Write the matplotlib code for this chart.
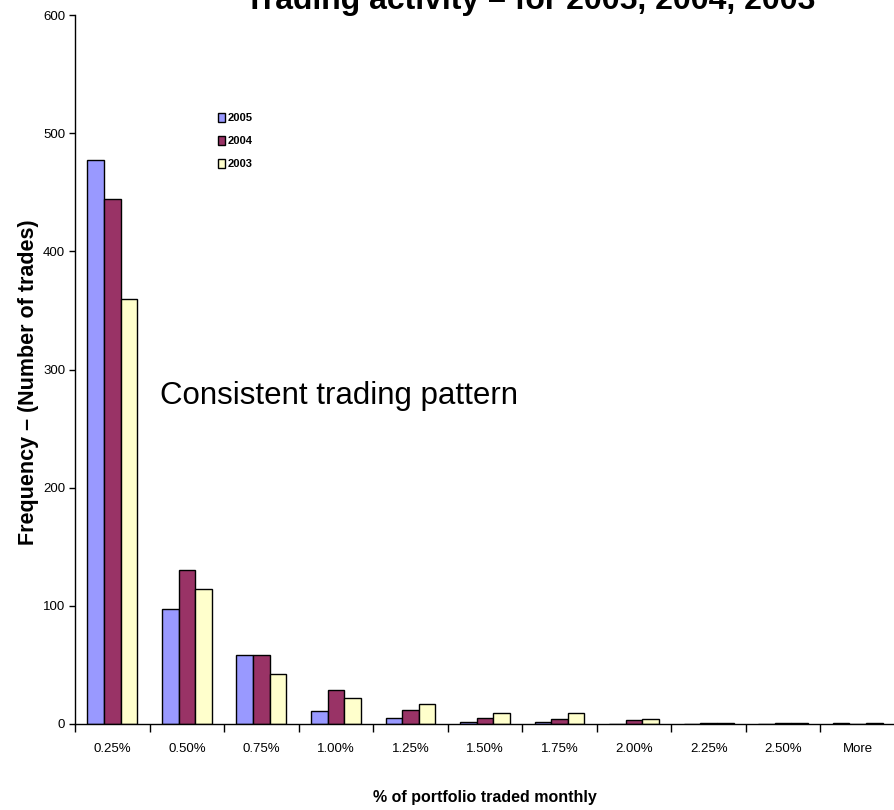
import matplotlib
matplotlib.use("Agg")
import matplotlib.pyplot as plt
from matplotlib import font_manager
import numpy as np

categories = ["0.25%", "0.50%", "0.75%", "1.00%", "1.25%", "1.50%",
              "1.75%", "2.00%", "2.25%", "2.50%", "More"]
series_names = ["2005", "2004", "2003"]
values_2005 = [477, 97, 58, 11, 5, 2, 2, 0, 0, 0, 1]
values_2004 = [444, 130, 58, 29, 12, 5, 4, 3, 1, 1, 0]
values_2003 = [360, 114, 42, 22, 17, 9, 9, 4, 1, 1, 1]
y_ticks = [0, 100, 200, 300, 400, 500, 600]

colors = ["#9999FF", "#993366", "#FFFFCC"]

installed = {f.name for f in font_manager.fontManager.ttflist}
narrow = "Liberation Sans Narrow" if "Liberation Sans Narrow" in installed else "Liberation Sans"
plt.rcParams["font.family"] = ["Liberation Sans", "DejaVu Sans"]

fig = plt.figure(figsize=(8.95, 8.10), dpi=100)
ax = fig.add_axes([75 / 895, 86 / 810, 820 / 895, 709 / 810])

x = np.arange(len(categories))
bw = 0.223
for k, (vals, name) in enumerate(zip([values_2005, values_2004, values_2003], series_names)):
    ax.bar(x + (k - 1) * bw, vals, width=bw, color=colors[k], edgecolor="black",
           linewidth=1.0, label=name)

ax.set_xlim(-0.5, len(categories) - 0.5)
ax.set_ylim(0, 600)
ax.spines["top"].set_visible(False)
ax.spines["right"].set_visible(False)
ax.spines["left"].set_linewidth(1.0)
ax.spines["bottom"].set_linewidth(1.0)

ax.set_yticks(y_ticks)
ax.set_yticklabels([str(v) for v in y_ticks], family=narrow, fontsize=9.5)
ax.tick_params(axis="y", direction="out", length=4, width=1, pad=3)

ax.set_xticks(x)
ax.set_xticklabels(categories, family=narrow, fontsize=9.5)
ax.tick_params(axis="x", which="major", length=0, pad=14)
ax.set_xticks(np.arange(-0.5, len(categories) + 0.5, 1.0), minor=True)
ax.tick_params(axis="x", which="minor", direction="out", length=6, width=1)

ax.set_ylabel("Frequency \u2013 (Number of trades)", fontsize=15.5, fontweight="bold",
              va="center")
ax.yaxis.set_label_coords(-0.0573, 0.482)
ax.set_xlabel("% of portfolio traded monthly", fontsize=11.5, fontweight="bold", labelpad=25)

fig.text(530 / 895, 1 - 9 / 810, "Trading activity \u2013 for 2005, 2004, 2003",
         ha="center", va="baseline", fontsize=23, fontweight="bold")

ax.text(0.104, 0.451, "Consistent trading pattern", transform=ax.transAxes,
        fontsize=22.5, ha="left", va="baseline")

leg = ax.legend(loc="upper left", bbox_to_anchor=(137 / 820, 1 - 92 / 709),
                frameon=False, prop={"family": narrow, "weight": "bold", "size": 8},
                handlelength=0.7, handleheight=0.9, handletextpad=0.2,
                labelspacing=1.13, borderpad=0)

fig.savefig("out.png", dpi=100)
